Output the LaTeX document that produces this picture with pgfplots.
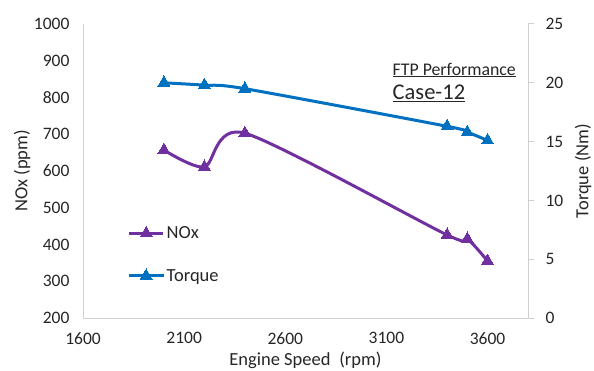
\documentclass[border=0pt]{standalone}
\usepackage{pgfplots}
\pgfplotsset{compat=1.18}
\usepackage{fontspec}
\setmainfont{Carlito}
\definecolor{noxc}{HTML}{7030A0}
\definecolor{torc}{HTML}{0070C0}
\definecolor{axc}{HTML}{D0D0D0}
\begin{document}
\begin{tikzpicture}[x=1pt,y=1pt]
\useasboundingbox (0,0) rectangle (594,370);
\pgfplotsset{
  base/.style={
    at={(83pt,52pt)}, anchor=south west,
    scale only axis, width=445pt, height=294pt,
    xmin=1600, xmax=3800,
    /pgf/number format/assume math mode=true,
    /pgf/number format/set thousands separator={},
    tick label style={font=\fontsize{17.5}{20}\selectfont, text=black!85},
    axis line style={axc, line width=1pt},
  }
}
\begin{axis}[base,
  axis y line*=left, axis x line*=bottom,
  ymin=200, ymax=1000, ytick={200,300,...,1000},
  xtick={1600,2100,2600,3100,3600},
  major tick length=0pt,
  yticklabel style={xshift=-10pt},
  xticklabel style={yshift=-11pt},
  xlabel={Engine Speed\hspace{0.25em} (rpm)},
  ylabel={NOx (ppm)},
  every axis x label/.style={at={(axis description cs:0.5,-0.143)}, anchor=center, font=\fontsize{18.5}{21}\selectfont, text=black!85},
  every axis y label/.style={at={(axis description cs:-0.137,0.5)}, anchor=center, rotate=90, font=\fontsize{18.5}{21}\selectfont, text=black!85},
]
\addplot[noxc, line width=3pt, smooth, tension=0.45, mark=triangle*, mark size=7pt, mark options={solid, line width=0pt}]
  coordinates {(2000,657) (2200,611) (2400,703) (3400,426) (3500,415) (3600,355)};
\node[anchor=base west, font=\fontsize{17.8}{20}\selectfont, text=black!85] at (axis description cs:0.688,0.826) {\underline{FTP Performance}};
\node[anchor=base west, font=\fontsize{22.5}{26}\selectfont, text=black!85] at (axis description cs:0.688,0.742) {\underline{Case-12}};
\end{axis}
\begin{axis}[base,
  axis y line*=right, axis x line=none,
  ymin=0, ymax=25, ytick={0,5,...,25},
  major tick length=6pt, tick style={axc, line width=1pt},
  tick align=outside,
  yticklabel style={xshift=8pt},
  ylabel={Torque (Nm)},
  every axis y label/.style={at={(axis description cs:1.124,0.5)}, anchor=center, rotate=90, font=\fontsize{18.5}{21}\selectfont, text=black!85},
  legend style={at={(axis description cs:0.1,0.318)}, anchor=north west, draw=none, fill=none,
    font=\fontsize{18.5}{21}\selectfont, text=black!85, row sep=25pt, inner sep=0pt},
  legend cell align=left,
  legend image code/.code={\draw[#1, mark repeat=2, mark phase=2] plot coordinates {(0pt,0pt) (17pt,0pt) (34pt,0pt)};},
]
\addlegendimage{noxc, line width=3pt, mark=triangle*, mark size=7pt, mark options={solid, line width=0pt}}
\addlegendentry{NOx}
\addplot[torc, line width=3pt, smooth, tension=0.45, mark=triangle*, mark size=7pt, mark options={solid, line width=0pt}]
  coordinates {(2000,20.0) (2200,19.8) (2400,19.5) (3400,16.3) (3500,15.8) (3600,15.1)};
\addlegendentry{Torque}
\end{axis}
\end{tikzpicture}
\end{document}
